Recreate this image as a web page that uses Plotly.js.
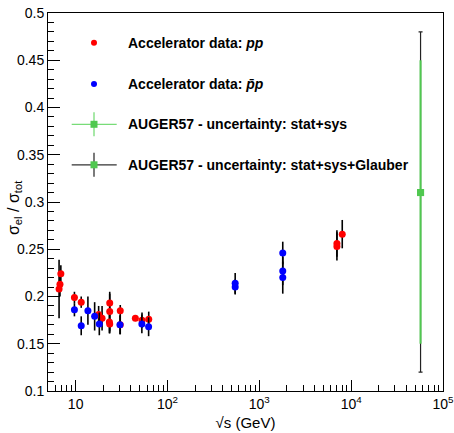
<!DOCTYPE html>
<html>
<head>
<meta charset="utf-8">
<script src="https://cdn.plot.ly/plotly-3.0.1.min.js"></script>
<style>html,body{margin:0;padding:0;background:#fff;}#chart{width:454px;height:433px;}</style>
</head>
<body>
<div id="chart"></div>
<script>
// Accelerator data: pp
const ppS = [6.9, 6.75, 6.6, 9.7, 11.5, 17.8, 19.4, 23.5, 23.5, 23.3, 23.5, 30.6, 30.6, 44.7, 52.8, 62.5, 7000, 7000, 8000];
const ppV = [0.224, 0.213, 0.208, 0.199, 0.194, 0.181, 0.177, 0.193, 0.184, 0.173, 0.171, 0.185, 0.170, 0.177, 0.175, 0.176, 0.256, 0.253, 0.266];
const ppE = [0.009, 0.013, 0.031, 0.006, 0.006, 0.009, 0.013, 0.010, 0.021, 0.012, 0.010, 0.006, 0.010, 0.003, 0.008, 0.008, 0.014, 0.015, 0.015];
// Accelerator data: pbar p
const pbS = [9.7, 11.5, 13.6, 16.1, 18.1, 30.4, 52.6, 62.3, 546, 546, 1800, 1800, 1800];
const pbV = [0.186, 0.169, 0.185, 0.179, 0.171, 0.170, 0.171, 0.168, 0.214, 0.210, 0.246, 0.227, 0.220];
const pbE = [0.007, 0.010, 0.015, 0.015, 0.012, 0.010, 0.010, 0.010, 0.011, 0.008, 0.012, 0.015, 0.017];
// AUGER57
const augS = [57000];
const augV = [0.31];
const augUp = [0.14], augDn = [0.16];          // stat+sys
const augGUp = [0.17], augGDn = [0.19];        // stat+sys+Glauber
// Axis ticks
const xTickVals = [10, 100, 1000, 10000, 100000];
const xTickText = ["10", "10<sup>2</sup>", "10<sup>3</sup>", "10<sup>4</sup>", "10<sup>5</sup>"];
const legendLabels = [
  "<b>Accelerator data: <i>pp</i></b>",
  "<b>Accelerator data: <i>p\u0304p</i></b>",
  "<b>AUGER57 - uncertainty: stat+sys</b>",
  "<b>AUGER57 - uncertainty: stat+sys+Glauber</b>"
];

const GREEN = 'rgb(80,200,80)';
const FONT = '"Liberation Sans", Arial, Helvetica, sans-serif';

const traces = [
  {x: ppS, y: ppV, type: 'scatter', mode: 'markers',
   marker: {color: '#ff0000', size: 7, symbol: 'circle'},
   error_y: {type: 'data', array: ppE, color: '#000', thickness: 1.6, width: 0}},
  {x: pbS, y: pbV, type: 'scatter', mode: 'markers',
   marker: {color: '#0000ff', size: 7, symbol: 'circle'},
   error_y: {type: 'data', array: pbE, color: '#000', thickness: 1.6, width: 0}},
  {x: augS, y: augV, type: 'scatter', mode: 'markers',
   marker: {color: GREEN, size: 7, symbol: 'square'},
   error_y: {type: 'data', symmetric: false, array: augGUp, arrayminus: augGDn, color: '#222', thickness: 1.2, width: 2}},
  {x: augS, y: augV, type: 'scatter', mode: 'markers',
   marker: {color: GREEN, size: 7, symbol: 'square'},
   error_y: {type: 'data', symmetric: false, array: augUp, arrayminus: augDn, color: GREEN, thickness: 2, width: 0}}
];

// legend (drawn in paper coordinates)
const L = 48, R = 443, T = 13, B = 391;
const px = v => (v - L) / (R - L);
const py = v => (B - v) / (B - T);
const rowY = [42.7, 84, 124.3, 164.8];
const mx = px(94);
const shapes = [];
const annotations = [];
// pp and pbar p dots
[['#ff0000', 0], ['#0000ff', 1]].forEach(([c, i]) => {
  shapes.push({type: 'circle', xref: 'paper', yref: 'paper', xsizemode: 'pixel', ysizemode: 'pixel',
    xanchor: mx, yanchor: py(rowY[i]), x0: -3, x1: 3, y0: -3, y1: 3,
    fillcolor: c, line: {width: 0}});
});
// Auger crosses
[[GREEN, 2, 'rgb(120,220,120)'], ['#333', 3, '#333']].forEach(([c, i, lc]) => {
  const yy = py(rowY[i]);
  shapes.push({type: 'line', xref: 'paper', yref: 'paper', x0: px(71.7), x1: px(116.7), y0: yy, y1: yy,
    line: {color: lc, width: 1.3}});
  shapes.push({type: 'line', xref: 'paper', yref: 'paper', xsizemode: 'pixel', ysizemode: 'pixel',
    xanchor: mx, yanchor: yy, x0: 0, x1: 0, y0: -12, y1: 12, line: {color: lc, width: 1.3}});
  shapes.push({type: 'rect', xref: 'paper', yref: 'paper', xsizemode: 'pixel', ysizemode: 'pixel',
    xanchor: mx, yanchor: yy, x0: -3.5, x1: 3.5, y0: -3.5, y1: 3.5, fillcolor: GREEN, line: {width: 0}});
});
legendLabels.forEach((t, i) => {
  annotations.push({xref: 'paper', yref: 'paper', x: px(126), y: py(rowY[i]), xanchor: 'left', yanchor: 'middle',
    text: t, showarrow: false, font: {family: FONT, size: 14, color: '#000'}});
});
// y-axis title
annotations.push({xref: 'paper', yref: 'paper', x: px(15), y: py(208), xanchor: 'center', yanchor: 'middle',
  textangle: -90, showarrow: false, text: 'σ<sub>el</sub> / σ<sub>tot</sub>',
  font: {family: FONT, size: 16, color: '#000'}});

const layout = {
  width: 454, height: 433,
  margin: {l: L, r: 454 - R, t: T, b: 433 - B, pad: 0},
  paper_bgcolor: '#fff', plot_bgcolor: '#fff',
  showlegend: false,
  font: {family: FONT, size: 14, color: '#000'},
  xaxis: {
    type: 'log', range: [Math.log10(5), Math.log10(100050)],
    showgrid: false, zeroline: false,
    showline: true, linecolor: '#000', linewidth: 1, mirror: true,
    ticks: 'inside', ticklen: 11, tickwidth: 1, tickcolor: '#000',
    tickvals: xTickVals, ticktext: xTickText,
    ticklabeloverflow: 'allow',
    tickfont: {family: FONT, size: 14},
    minor: {ticks: 'inside', ticklen: 6, tickwidth: 1, tickcolor: '#000', dtick: 'D1', showgrid: false},
    title: {text: '√s (GeV)', font: {family: FONT, size: 15}, standoff: 6}
  },
  yaxis: {
    range: [0.1, 0.5],
    showgrid: false, zeroline: false,
    showline: true, linecolor: '#000', linewidth: 1, mirror: true,
    ticks: 'inside', ticklen: 12, tickwidth: 1, tickcolor: '#000',
    dtick: 0.05, tick0: 0.1,
    tickfont: {family: FONT, size: 14},
    minor: {ticks: 'inside', ticklen: 6, tickwidth: 1, tickcolor: '#000', dtick: 0.01, showgrid: false}
  },
  shapes: shapes,
  annotations: annotations
};

Plotly.newPlot('chart', traces, layout, {staticPlot: true, displayModeBar: false});
</script>
</body>
</html>
